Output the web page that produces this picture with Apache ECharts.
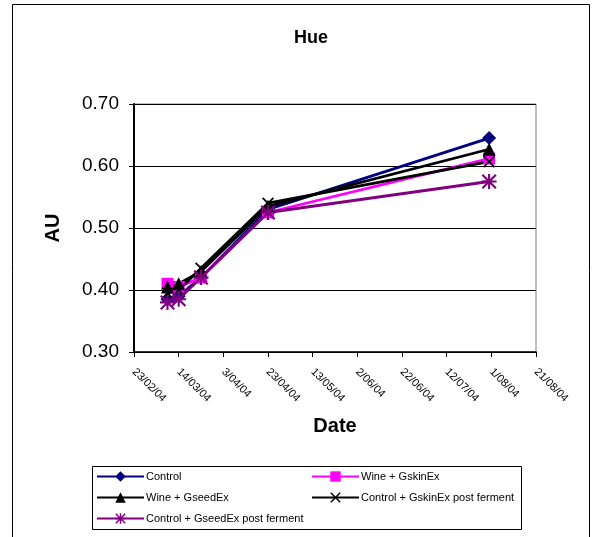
<!DOCTYPE html>
<html><head><meta charset="utf-8">
<script src="https://cdn.jsdelivr.net/npm/echarts@6/dist/echarts.min.js"></script>
<style>html,body{margin:0;padding:0;background:#fff}#c{width:601px;height:537px}</style>
</head><body><div id="c"></div>
<script>
// ---- data ----
var dates = ['2004-03-09', '2004-03-14', '2004-03-24', '2004-04-23', '2004-07-31'];
var control = [0.385, 0.39, 0.42, 0.53, 0.645];
var wineGskin = [0.41, 0.405, 0.42, 0.525, 0.612];
var wineGseed = [0.405, 0.41, 0.43, 0.535, 0.627];
var ctrlGskinPost = [0.395, 0.40, 0.435, 0.54, 0.607];
var ctrlGseedPost = [0.38, 0.385, 0.42, 0.525, 0.575];
var seriesNames = ['Control', 'Wine + GskinEx', 'Wine + GseedEx', 'Control + GskinEx post ferment', 'Control + GseedEx post ferment'];
var xTickLabels = ['23/02/04', '14/03/04', '3/04/04', '23/04/04', '13/05/04', '2/06/04', '22/06/04', '12/07/04', '1/08/04', '21/08/04'];
var xStartDate = '2004-02-23';
var xStepDays = 20;

// ---- helpers ----
function dayNum(s) { var p = s.split('-'); return Date.UTC(+p[0], +p[1] - 1, +p[2]) / 86400000; }
var d0 = dayNum(xStartDate);
function pairs(vals) { return dates.map(function (d, i) { return [dayNum(d) - d0, vals[i]]; }); }

var xPath = 'path://M0,1 L1,0 L5,4 L9,0 L10,1 L6,5 L10,9 L9,10 L5,6 L1,10 L0,9 L4,5 Z';
var starPath = 'path://M0,1 L1,0 L5,4 L9,0 L10,1 L6,5 L10,9 L9,10 L5,6 L1,10 L0,9 L4,5 Z M4.3,0 L5.7,0 L5.7,10 L4.3,10 Z M0,4.3 L10,4.3 L10,5.7 L0,5.7 Z';

var styles = [
  { color: '#000080', symbol: 'diamond', size: 14 },
  { color: '#FF00FF', symbol: 'rect', size: 12 },
  { color: '#000000', symbol: 'triangle', size: 13 },
  { color: '#000000', symbol: xPath, size: 12 },
  { color: '#800080', symbol: starPath, size: 15 }
];
var allVals = [control, wineGskin, wineGseed, ctrlGskinPost, ctrlGseedPost];
var FONT = 'Liberation Sans, Arial, sans-serif';

var series = allVals.map(function (v, i) {
  return {
    name: seriesNames[i], type: 'line', data: pairs(v),
    symbol: styles[i].symbol, symbolSize: styles[i].size, showAllSymbol: true,
    lineStyle: { color: styles[i].color, width: 2.8 },
    itemStyle: { color: styles[i].color, borderWidth: 0 },
    emphasis: { disabled: true }, animation: false
  };
});

var legendPos = [[96, 471], [311, 471], [96, 492], [311, 492], [96, 513]];
var legends = seriesNames.map(function (n, i) {
  return {
    data: [n], left: legendPos[i][0], top: legendPos[i][1], padding: 0,
    itemWidth: 47, itemHeight: 13, itemGap: 0, selectedMode: false,
    textStyle: { fontFamily: FONT, fontSize: 11, color: '#000', padding: [0, 0, 0, -3] }
  };
});

var chart = echarts.init(document.getElementById('c'), null, { renderer: 'canvas' });
chart.setOption({
  animation: false,
  backgroundColor: '#fff',
  title: { text: 'Hue', left: 289, top: 24, textStyle: { fontFamily: FONT, fontSize: 18, fontWeight: 'bold', color: '#000' } },
  grid: { left: 134, right: 65, top: 104, bottom: 185, show: true, borderColor: '#808080', borderWidth: 1, backgroundColor: 'transparent' },
  graphic: [
    { type: 'rect', shape: { x: 12.5, y: 4.5, width: 577, height: 545 }, style: { fill: 'none', stroke: '#000', lineWidth: 1 }, z: -1 },
    { type: 'rect', shape: { x: 92.5, y: 466.5, width: 429, height: 63 }, style: { fill: 'none', stroke: '#000', lineWidth: 1 }, z: -1 }
  ],
  legend: legends,
  xAxis: {
    type: 'value', min: 0, max: (xTickLabels.length - 1) * xStepDays, interval: xStepDays,
    name: 'Date', nameLocation: 'middle', nameGap: 64,
    nameTextStyle: { fontFamily: FONT, fontSize: 20, fontWeight: 'bold', color: '#000' },
    axisLine: { lineStyle: { color: '#000', width: 1.5 } },
    axisTick: { show: true, inside: false, length: 5, lineStyle: { color: '#000' } },
    splitLine: { show: false },
    axisLabel: {
      rotate: -45, margin: 18, color: '#000', fontSize: 11, fontFamily: FONT,
      formatter: function (v) { var i = Math.round(v / xStepDays); return xTickLabels[i] || ''; }
    }
  },
  yAxis: {
    type: 'value', min: 0.3, max: 0.7, interval: 0.1,
    name: 'AU', nameLocation: 'middle', nameGap: 71, nameRotate: 90,
    nameTextStyle: { fontFamily: FONT, fontSize: 20, fontWeight: 'bold', color: '#000' },
    axisLine: { show: true, lineStyle: { color: '#000', width: 2 } },
    axisTick: { show: true, inside: false, length: 5, lineStyle: { color: '#000' } },
    splitLine: { show: true, lineStyle: { color: '#000', width: 1 } },
    axisLabel: { margin: 15, color: '#000', fontSize: 19, fontFamily: FONT, formatter: function (v) { return v.toFixed(2); } }
  },
  series: series
});
</script></body></html>
